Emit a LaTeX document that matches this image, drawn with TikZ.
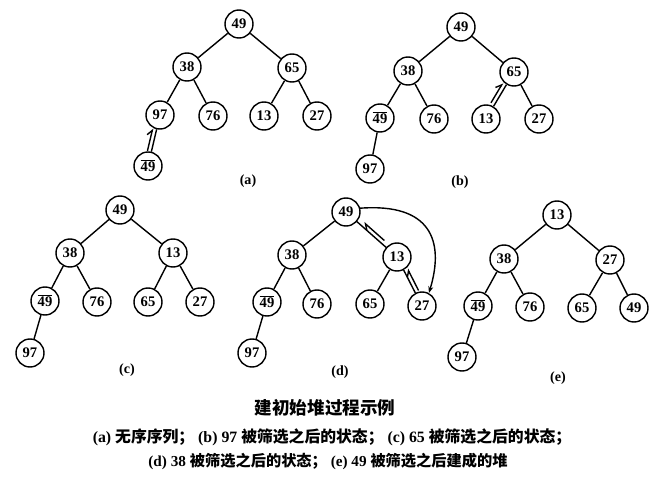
\documentclass[tikz,border=0pt]{standalone}
\usepackage{fontspec}
\setmainfont{Liberation Serif}
\newfontfamily\cjk{Noto Sans CJK SC}
\usetikzlibrary{arrows.meta, calc}

\newcommand{\barred}[1]{\leavevmode\vbox{\hrule height 0.7pt \kern 1.2pt \hbox{#1}}}

\begin{document}
\begin{tikzpicture}[x=0.03cm, y=-0.03cm, >={Stealth[length=2mm]},
  line width=1.2pt,
  keynode/.style={draw, circle, minimum size=0.84cm, inner sep=0pt, font=\fontsize{12.5}{14}\selectfont\bfseries},
  sublabel/.style={font=\fontsize{12}{14}\selectfont\bfseries},
  halfarrow/.style={-{Straight Barb[left, length=1.6mm, width=2.4mm]}}]
  \useasboundingbox (0,0) rectangle (663,477);

  % (a) unordered sequence
  \node[keynode] (a49) at (239,24) {49};
  \node[keynode] (a38) at (187,67) {38};
  \node[keynode] (a65) at (292,68) {65};
  \node[keynode] (a97) at (160,115) {97};
  \node[keynode] (a76) at (213,116) {76};
  \node[keynode] (a13) at (264,116) {13};
  \node[keynode] (a27) at (317,116) {27};
  \node[keynode] (a49b) at (148,166) {\barred{49}};
  \node[sublabel] (alab) at (248,181) {(a)};
  \foreach \u/\v in {a49/a38, a49/a65, a38/a97, a38/a76, a65/a13, a65/a27, a97/a49b}
    \draw (\u) -- (\v);
  \draw[halfarrow] ($(a49b)!0.28!(a97)!0.12cm!90:(a97)$) -- ($(a49b)!0.72!(a97)!0.12cm!90:(a97)$);

  % (b) after sifting 97
  \node[keynode] (b49) at (461,27) {49};
  \node[keynode] (b38) at (408,71) {38};
  \node[keynode] (b65) at (514,72) {65};
  \node[keynode] (b49b) at (380,118) {\barred{49}};
  \node[keynode] (b76) at (434,119) {76};
  \node[keynode] (b13) at (486,119) {13};
  \node[keynode] (b27) at (539,119) {27};
  \node[keynode] (b97) at (370,169) {97};
  \node[sublabel] (blab) at (460,182) {(b)};
  \foreach \u/\v in {b49/b38, b49/b65, b38/b49b, b38/b76, b65/b13, b65/b27, b49b/b97}
    \draw (\u) -- (\v);
  \draw[halfarrow] ($(b13)!0.3!(b65)!0.12cm!90:(b65)$) -- ($(b13)!0.72!(b65)!0.12cm!90:(b65)$);

  % (c) after sifting 65
  \node[keynode] (c49) at (120,210) {49};
  \node[keynode] (c38) at (70,253) {38};
  \node[keynode] (c13) at (173,253) {13};
  \node[keynode] (c49b) at (45,301) {\barred{49}};
  \node[keynode] (c76) at (97,302) {76};
  \node[keynode] (c65) at (148,302) {65};
  \node[keynode] (c27) at (200,302) {27};
  \node[keynode] (c97) at (30,353) {97};
  \node[sublabel] (clab) at (127,370) {(c)};
  \foreach \u/\v in {c49/c38, c49/c13, c38/c49b, c38/c76, c13/c65, c13/c27, c49b/c97}
    \draw (\u) -- (\v);

  % (d) after sifting 38
  \node[keynode] (d49) at (346,212) {49};
  \node[keynode] (d38) at (292,255) {38};
  \node[keynode] (d13) at (397,257) {13};
  \node[keynode] (d49b) at (267,302) {\barred{49}};
  \node[keynode] (d76) at (317,304) {76};
  \node[keynode] (d65) at (370,304) {65};
  \node[keynode] (d27) at (422,306) {27};
  \node[keynode] (d97) at (252,353) {97};
  \node[sublabel] (dlab) at (340,372) {(d)};
  \foreach \u/\v in {d49/d38, d49/d13, d38/d49b, d38/d76, d13/d65, d13/d27, d49b/d97}
    \draw (\u) -- (\v);
  \draw[halfarrow] ($(d13)!0.3!(d49)!0.12cm!-90:(d49)$) -- ($(d13)!0.7!(d49)!0.12cm!-90:(d49)$);
  \draw[halfarrow] ($(d27)!0.28!(d13)!0.12cm!-90:(d13)$) -- ($(d27)!0.72!(d13)!0.12cm!-90:(d13)$);
  \draw[->] (d49.15) .. controls (430,203) and (445,240) .. (d27.62);

  % (e) heap built after sifting 49
  \node[keynode] (e13) at (557,215) {13};
  \node[keynode] (e38) at (504,259) {38};
  \node[keynode] (e27) at (610,260) {27};
  \node[keynode] (e49b) at (478,306) {\barred{49}};
  \node[keynode] (e76) at (530,307) {76};
  \node[keynode] (e65) at (582,308) {65};
  \node[keynode] (e49) at (634,308) {49};
  \node[keynode] (e97) at (462,357) {97};
  \node[sublabel] (elab) at (558,378) {(e)};
  \foreach \u/\v in {e13/e38, e13/e27, e38/e49b, e38/e76, e27/e65, e27/e49, e49b/e97}
    \draw (\u) -- (\v);

  % caption
  \node[font=\fontsize{15}{17}\selectfont\cjk\bfseries] (title) at (325,408) {建初始堆过程示例};
  \node[font=\fontsize{13.5}{15}\selectfont\bfseries] (line1) at (332,437)
    {(a) {\cjk 无序序列；} (b) 97 {\cjk 被筛选之后的状态；} (c) 65 {\cjk 被筛选之后的状态；}};
  \node[font=\fontsize{13}{15}\selectfont\bfseries] (line2) at (328,461)
    {(d) 38 {\cjk 被筛选之后的状态；} (e) 49 {\cjk 被筛选之后建成的堆}};
\end{tikzpicture}
\end{document}
